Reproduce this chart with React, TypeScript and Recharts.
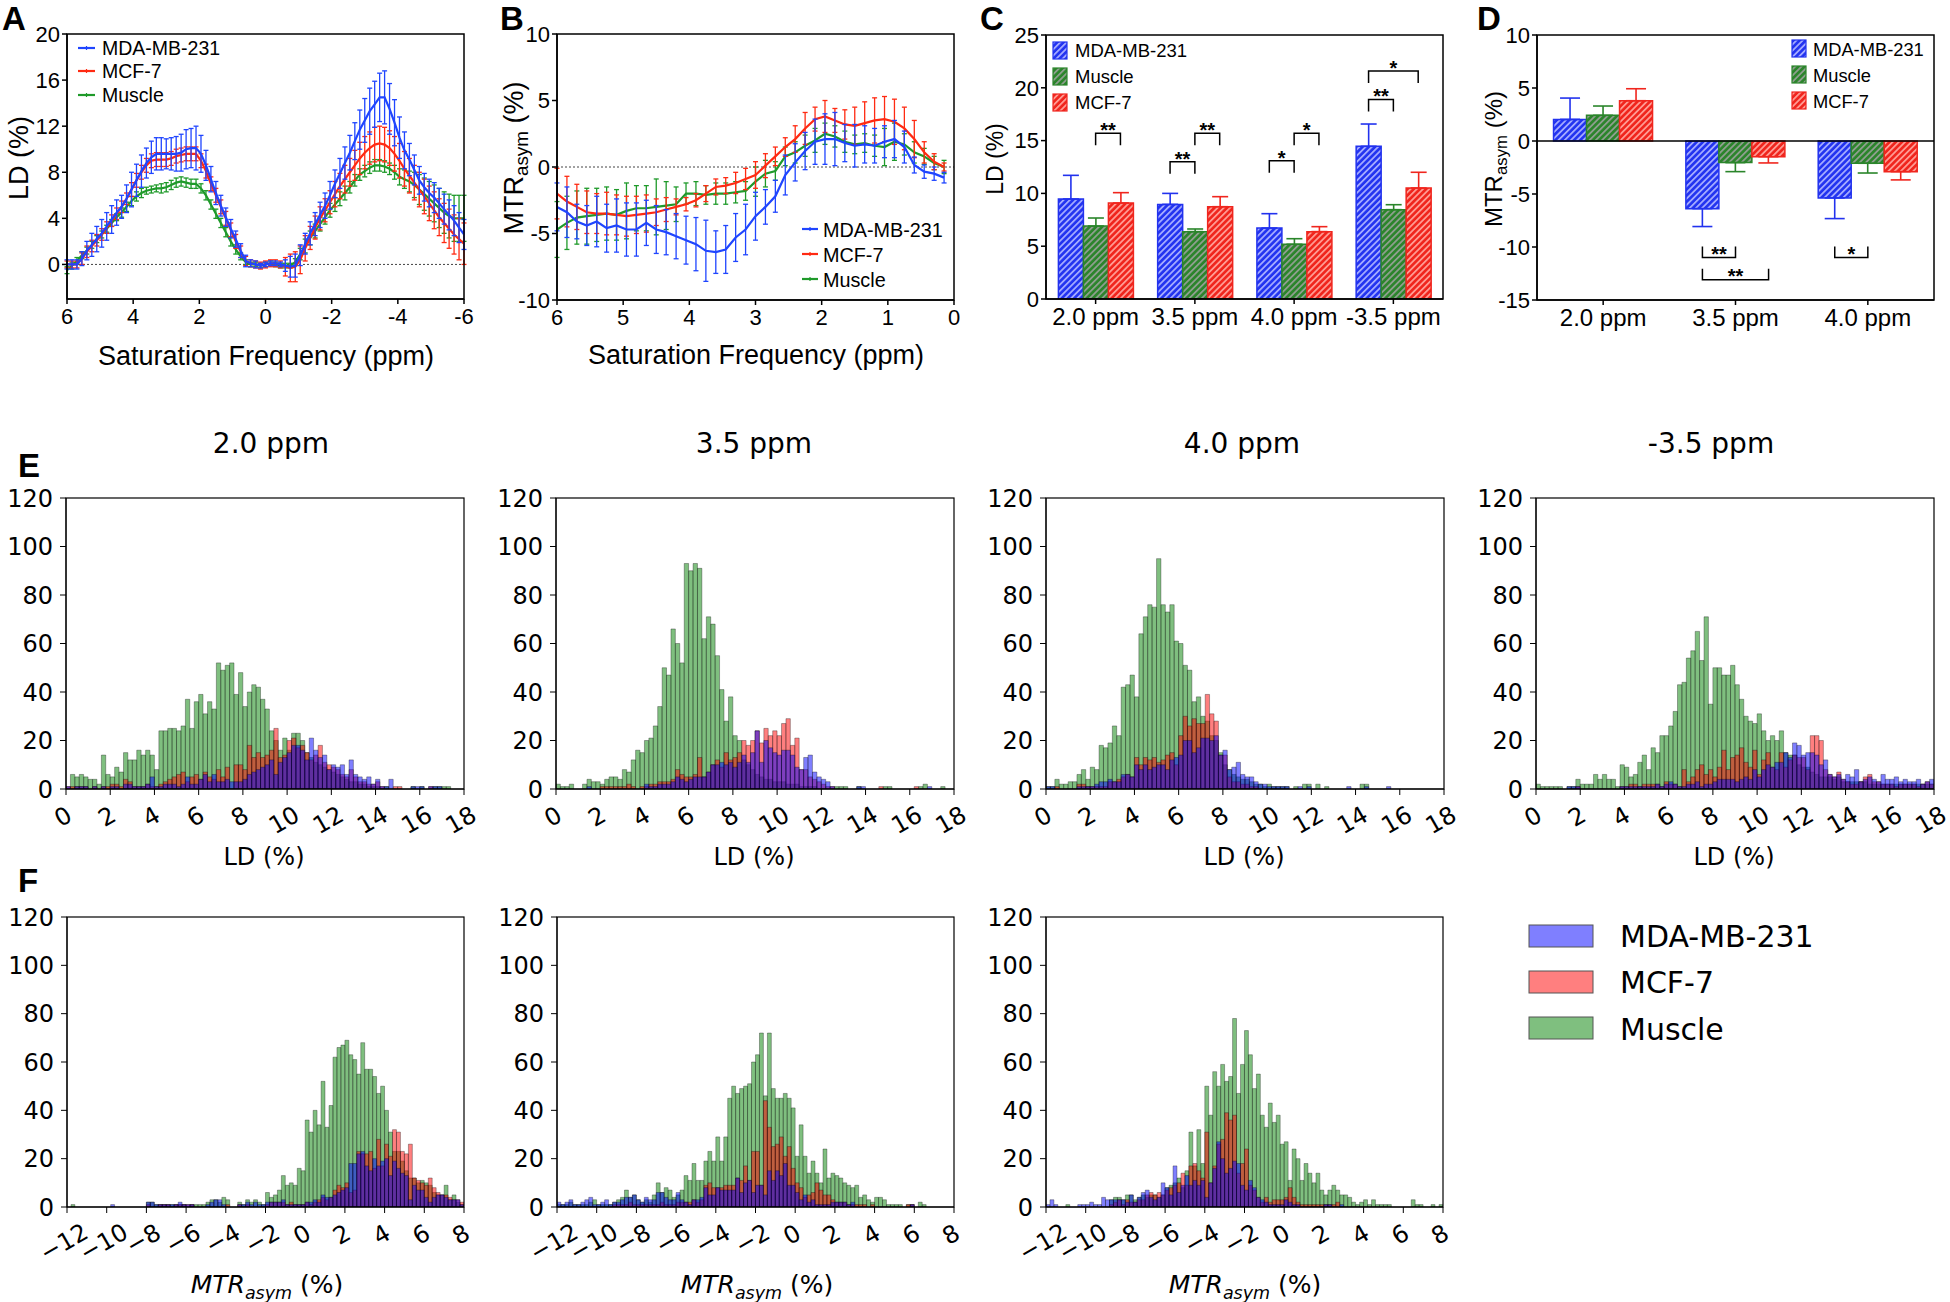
import React from 'react';
import { LineChart, Line, BarChart, Bar, XAxis, YAxis, ErrorBar, ReferenceLine } from 'recharts';

const ARIAL = '"Liberation Sans", Arial, Helvetica, sans-serif';
const DEJAVU = '"DejaVu Sans", sans-serif';
const BLUE = '#1f45ff';
const RED = '#ff2a12';
const GREEN = '#1f9a2a';
const HB = '#2232ee';
const HG = '#2a852a';
const HR = '#f0261e';

// ---------- A: LD spectra, 6 .. -6 ppm every 0.15 ppm
const freqA = Array.from({ length: 81 }, (_, i) => +(6 - 0.15 * i).toFixed(2));
const ldMDA = [0, 0, 0, 0.5, 1.2, 1.7, 2.2, 2.7, 3.3, 3.9,
  4.5, 5.0, 5.7, 6.5, 7.3, 8.1, 8.8, 9.3, 9.6, 9.6,
  9.6, 9.6, 9.6, 9.7, 10.0, 10.1, 10.1, 9.6, 8.6, 7.4,
  6.2, 5.1, 4.1, 3.1, 2.2, 1.2, 0.3, 0.1, 0, -0.1,
  0, 0.1, 0.1, 0, -0.1, -0.2, -0.1, 0.8, 1.8, 2.7,
  3.5, 4.3, 5.1, 6.0, 7.0, 7.9, 8.8, 9.7, 10.7, 11.7,
  12.5, 13.3, 13.9, 14.5, 14.5, 13.5, 12.3, 11.0, 9.9, 9.1,
  8.2, 7.3, 6.7, 6.2, 5.8, 5.3, 4.8, 4.3, 3.8, 3.2, 2.6];
const ldMDAerr = [0.4, 0.4, 0.4, 0.6, 0.8, 1.0, 1.1, 1.2, 1.2, 1.2,
  1.1, 1.0, 1.2, 1.5, 1.4, 1.4, 1.3, 1.4, 1.4, 1.4,
  1.3, 1.4, 1.5, 1.6, 1.7, 1.7, 1.9, 1.6, 1.3, 1.1,
  1.0, 0.9, 0.8, 0.8, 0.7, 0.6, 0.5, 0.3, 0.3, 0.2,
  0.2, 0.2, 0.2, 0.2, 0.5, 0.9, 1.0, 0.9, 0.9, 1.0,
  1.0, 1.1, 1.1, 1.2, 1.2, 1.3, 1.4, 1.5, 1.6, 1.7,
  1.9, 2.0, 2.0, 2.1, 2.3, 2.2, 2.0, 1.8, 1.6, 1.4,
  1.3, 1.2, 1.2, 1.2, 1.3, 1.3, 1.3, 1.3, 1.3, 1.3, 1.3];
const ldMCF = [0, 0, 0, 0.5, 1.1, 1.6, 2.1, 2.6, 3.2, 3.8,
  4.4, 5.0, 5.7, 6.5, 7.3, 8.0, 8.6, 9.0, 9.1, 9.1,
  9.1, 9.2, 9.4, 9.5, 9.6, 9.6, 9.6, 9.0, 8.1, 7.0,
  6.0, 5.0, 4.0, 3.0, 2.0, 1.1, 0.3, 0.1, 0, -0.1,
  0, 0.1, 0.1, 0, -0.2, -0.3, -0.2, 0.4, 1.4, 2.3,
  3.2, 4.0, 4.7, 5.4, 6.1, 6.8, 7.4, 8.0, 8.6, 9.2,
  9.7, 10.1, 10.4, 10.5, 10.4, 10.1, 9.6, 9.0, 8.3, 7.7,
  7.1, 6.5, 5.9, 5.3, 4.7, 4.1, 3.6, 3.1, 2.6, 2.2, 1.8];
const ldMCFerr = [0.3, 0.3, 0.3, 0.5, 0.5, 0.5, 0.5, 0.5, 0.5, 0.5,
  0.5, 0.5, 0.5, 0.6, 0.6, 0.6, 0.6, 0.6, 0.6, 0.6,
  0.6, 0.6, 0.6, 0.6, 0.6, 0.6, 0.6, 0.6, 0.6, 0.6,
  0.6, 0.6, 0.6, 0.6, 0.6, 0.5, 0.4, 0.3, 0.3, 0.3,
  0.3, 0.3, 0.3, 0.3, 0.8, 1.2, 1.3, 1.2, 1.1, 1.0,
  1.0, 1.0, 1.0, 1.0, 1.1, 1.1, 1.2, 1.2, 1.3, 1.4,
  1.4, 1.4, 1.5, 1.5, 1.5, 1.5, 1.5, 1.5, 1.5, 1.5,
  1.5, 1.5, 1.5, 1.5, 1.6, 1.6, 1.7, 1.7, 1.7, 1.8, 1.8];
const ldMUS = [-0.5, -0.1, 0.3, 0.8, 1.2, 1.7, 2.2, 2.6, 3.1, 3.6,
  4.1, 4.5, 5.0, 5.5, 5.9, 6.2, 6.4, 6.5, 6.6, 6.6,
  6.7, 6.9, 7.1, 7.2, 7.1, 7.0, 7.0, 6.6, 6.0, 5.2,
  4.4, 3.6, 2.8, 2.0, 1.3, 0.7, 0.2, 0, 0, -0.1,
  0, 0.1, 0, -0.1, -0.1, -0.1, 0.2, 0.9, 1.6, 2.3,
  2.9, 3.5, 4.1, 4.7, 5.2, 5.7, 6.2, 6.7, 7.3, 7.8,
  8.1, 8.4, 8.6, 8.6, 8.5, 8.3, 8.0, 7.6, 7.4, 7.2,
  6.9, 6.5, 6.1, 5.7, 5.3, 4.9, 4.5, 4.2, 4.0, 4.0, 4.0];
const ldMUSerr = [0.3, 0.3, 0.3, 0.3, 0.3, 0.3, 0.3, 0.3, 0.3, 0.3,
  0.3, 0.4, 0.4, 0.4, 0.4, 0.4, 0.3, 0.3, 0.3, 0.4,
  0.4, 0.4, 0.4, 0.4, 0.4, 0.4, 0.4, 0.4, 0.4, 0.4,
  0.4, 0.4, 0.4, 0.4, 0.4, 0.3, 0.2, 0.2, 0.2, 0.2,
  0.2, 0.2, 0.2, 0.2, 0.2, 0.2, 0.3, 0.5, 0.6, 0.6,
  0.6, 0.6, 0.6, 0.6, 0.6, 0.6, 0.6, 0.5, 0.5, 0.5,
  0.5, 0.5, 0.5, 0.5, 0.5, 0.5, 0.6, 0.7, 0.8, 0.9,
  1.1, 1.3, 1.4, 1.5, 1.6, 1.7, 1.8, 1.9, 2.0, 2.0, 2.0];

// ---------- B: MTRasym, 6 .. 0.15 ppm every 0.15 ppm
const freqB = Array.from({ length: 40 }, (_, i) => +(6 - 0.15 * i).toFixed(2));
const mtrMDA = [-3.0, -3.4, -4.1, -4.4, -4.1, -4.6, -4.4, -4.7, -4.7, -4.2,
  -4.7, -4.9, -5.2, -5.5, -5.8, -6.3, -6.4, -6.2, -5.3, -4.7,
  -3.7, -3.0, -2.2, -0.6, 0.35, 1.2, 1.9, 2.1, 2.1, 1.8,
  1.6, 1.7, 1.6, 1.9, 2.1, 1.5, 0.15, -0.35, -0.5, -0.8];
const mtrMDAerr = [1.8, 1.9, 1.3, 1.5, 1.9, 1.8, 2.0, 2.0, 2.0, 1.7,
  1.8, 1.7, 1.7, 1.8, 2.0, 2.3, 1.6, 1.8, 1.8, 1.9,
  1.8, 1.3, 1.2, 1.5, 1.4, 1.4, 1.7, 1.9, 2.0, 1.4,
  1.6, 1.4, 1.3, 1.2, 1.4, 1.2, 0.6, 0.5, 0.5, 0.4];
const mtrMCF = [-2.0, -2.6, -3.0, -3.4, -3.5, -3.5, -3.6, -3.7, -3.6, -3.5,
  -3.4, -3.2, -3.0, -2.8, -2.5, -2.0, -1.5, -1.4, -1.2, -0.9,
  -0.6, 0.1, 0.8, 1.5, 2.1, 2.9, 3.6, 3.8, 3.5, 3.2,
  3.1, 3.3, 3.5, 3.6, 3.4, 2.9, 2.1, 1.1, 0.4, 0.0];
const mtrMCFerr = [1.9, 1.9, 1.7, 1.6, 1.5, 1.6, 1.5, 1.5, 1.4, 1.4,
  1.0, 0.9, 0.6, 0.5, 0.5, 0.6, 0.6, 0.6, 0.8, 0.8,
  1.0, 0.9, 0.7, 0.7, 1.0, 1.2, 0.9, 1.2, 0.9, 1.1,
  1.4, 1.6, 1.7, 1.7, 1.7, 1.6, 1.4, 0.8, 0.6, 0.3];
const mtrMUS = [-4.7, -4.2, -3.8, -3.7, -3.6, -3.5, -3.6, -3.3, -3.1, -3.1,
  -3.0, -2.9, -2.8, -2.0, -2.0, -2.1, -2.0, -2.0, -1.9, -1.8,
  -1.1, -0.5, -0.3, 0.8, 1.1, 1.6, 2.0, 2.5, 2.3, 1.9,
  1.7, 1.8, 1.6, 1.5, 1.9, 1.7, 1.1, 0.8, 0.3, 0.0];
const mtrMUSerr = [2.1, 2.0, 2.0, 2.1, 2.0, 2.0, 1.9, 2.1, 1.7, 1.7,
  2.1, 1.8, 1.3, 0.8, 0.9, 0.7, 0.8, 0.8, 0.8, 0.7,
  1.1, 1.0, 0.7, 0.7, 0.8, 0.8, 0.9, 0.8, 0.8, 0.8,
  0.7, 0.7, 0.8, 1.4, 1.4, 0.8, 0.8, 0.6, 0.5, 0.5];

// ---------- C / D: bar summaries (mean, SEM)
const ldCats = ['2.0 ppm', '3.5 ppm', '4.0 ppm', '-3.5 ppm'];
const ldBarMDA = [9.47, 8.96, 6.72, 14.46];
const ldBarMDAsem = [2.24, 1.04, 1.36, 2.11];
const ldBarMUS = [6.91, 6.38, 5.18, 8.46];
const ldBarMUSsem = [0.76, 0.25, 0.53, 0.47];
const ldBarMCF = [9.09, 8.74, 6.38, 10.51];
const ldBarMCFsem = [0.98, 0.95, 0.47, 1.49];

const mtrCats = ['2.0 ppm', '3.5 ppm', '4.0 ppm'];
const mtrBarMDA = [2.04, -6.38, -5.37];
const mtrBarMDAsem = [2.01, 1.69, 1.95];
const mtrBarMUS = [2.42, -2.04, -2.10];
const mtrBarMUSsem = [0.88, 0.85, 0.92];
const mtrBarMCF = [3.80, -1.48, -2.89];
const mtrBarMCFsem = [1.13, 0.59, 0.78];

// significance brackets: category, bar a, bar b, level, label
const sigC = [
  { cat: 0, a: 1, b: 2, y: 15.7, s: '**' },
  { cat: 1, a: 0, b: 1, y: 13.0, s: '**' },
  { cat: 1, a: 1, b: 2, y: 15.7, s: '**' },
  { cat: 2, a: 0, b: 1, y: 13.1, s: '*' },
  { cat: 2, a: 1, b: 2, y: 15.7, s: '*' },
  { cat: 3, a: 0, b: 1, y: 18.9, s: '**' },
  { cat: 3, a: 0, b: 2, y: 21.6, s: '*' },
];
const sigD = [
  { cat: 1, a: 0, b: 1, y: -11.0, s: '**' },
  { cat: 1, a: 0, b: 2, y: -13.1, s: '**' },
  { cat: 2, a: 0, b: 1, y: -11.0, s: '*' },
];

// ---------- E: LD histograms, bins of 0.2 from 0
const h20Mus = [0, 6, 5, 6, 5, 4, 4, 2, 14, 6, 5, 9, 7, 15, 12, 12, 16, 14, 16, 14, 8, 24, 24, 25, 25, 24, 26, 37, 25, 36, 39, 31, 36, 33, 52, 49, 51, 52, 39, 48, 34, 40, 43, 42, 37, 33, 24, 20, 16, 21, 16, 23, 23, 20, 15, 13, 11, 10, 9, 8, 7, 6, 5, 4, 3, 3, 2, 2, 1, 1, 1, 0, 1, 0, 0, 0, 0, 0, 1, 0, 1, 0, 0, 1, 1, 1, 1];
const h20Mcf = [1, 1, 1, 1, 1, 0, 1, 0, 1, 1, 2, 2, 1, 4, 3, 1, 1, 1, 2, 1, 1, 2, 3, 4, 5, 6, 7, 3, 5, 6, 4, 7, 5, 4, 8, 5, 9, 0, 10, 10, 8, 18, 13, 15, 13, 14, 16, 25, 13, 14, 20, 21, 17, 18, 15, 12, 14, 18, 11, 10, 9, 8, 6, 5, 8, 5, 3, 3, 2, 2, 3, 1, 0, 0, 1, 1, 0, 0, 0, 0, 0, 0, 1];
const h20Mda = [1, 0, 1, 1, 1, 0, 1, 0, 1, 0, 1, 1, 0, 2, 2, 1, 1, 1, 2, 5, 1, 1, 2, 2, 2, 1, 2, 5, 2, 2, 4, 6, 3, 6, 3, 3, 4, 3, 3, 3, 4, 6, 7, 8, 9, 10, 12, 6, 11, 13, 15, 18, 18, 16, 12, 21, 16, 13, 14, 8, 10, 9, 10, 6, 12, 6, 5, 4, 5, 2, 4, 1, 1, 4, 0, 0, 0, 0, 1, 1, 1, 0, 1, 1, 1];

const h35Mus = [2, 1, 1, 2, 0, 0, 2, 4, 3, 3, 2, 4, 5, 5, 4, 8, 7, 12, 16, 15, 20, 21, 26, 34, 50, 47, 66, 60, 52, 93, 90, 93, 91, 62, 71, 68, 55, 41, 28, 38, 22, 20, 12, 10, 8, 6, 5, 4, 4, 3, 3, 3, 2, 2, 2, 1, 1, 1, 1, 0, 0, 0, 0, 1, 1, 1, 0, 0, 1, 0, 0, 0, 0, 0, 1, 1, 0, 0, 0, 0, 0, 0, 1, 2, 0, 0, 0, 1];
const h35Mcf = [0, 0, 0, 0, 0, 0, 0, 0, 0, 0, 1, 1, 1, 1, 1, 1, 2, 1, 0, 1, 1, 2, 2, 3, 3, 3, 4, 8, 6, 5, 5, 6, 13, 5, 7, 10, 12, 9, 15, 12, 13, 15, 20, 18, 20, 24, 19, 25, 22, 24, 22, 27, 29, 18, 21, 8, 8, 5, 4, 3, 2, 1, 1, 0, 0, 0, 0, 0, 0, 0, 0, 0, 0, 1, 0, 0, 0, 0, 0, 0, 0, 1];
const h35Mda = [0, 0, 0, 0, 0, 0, 0, 1, 0, 0, 0, 0, 0, 0, 0, 0, 0, 0, 0, 0, 2, 1, 1, 2, 2, 2, 3, 5, 4, 3, 4, 5, 5, 5, 7, 10, 10, 11, 10, 11, 9, 11, 14, 11, 15, 24, 11, 20, 17, 15, 14, 16, 16, 14, 9, 8, 13, 14, 7, 5, 4, 3, 1, 0, 0, 0, 0, 0, 1, 1, 0, 0, 0, 0, 0, 0, 0, 0, 0, 0, 0, 0, 0, 0, 1];

const h40Mus = [1, 1, 4, 2, 2, 3, 3, 6, 8, 4, 9, 8, 18, 17, 19, 26, 22, 42, 43, 47, 38, 64, 71, 76, 75, 95, 76, 73, 76, 61, 60, 51, 49, 36, 38, 30, 28, 22, 20, 15, 10, 8, 6, 5, 4, 4, 3, 2, 2, 1, 2, 1, 1, 1, 1, 0, 1, 0, 2, 2, 0, 2, 0, 1, 0, 0, 0, 0, 0, 0, 0, 2, 2];
const h40Mcf = [0, 0, 1, 0, 0, 0, 0, 2, 2, 1, 1, 1, 1, 1, 3, 3, 4, 5, 6, 5, 13, 10, 13, 12, 13, 11, 12, 14, 15, 10, 22, 30, 26, 29, 27, 27, 39, 31, 28, 14, 14, 5, 3, 3, 2, 2, 1, 1];
const h40Mda = [1, 1, 0, 0, 0, 0, 0, 1, 1, 1, 1, 2, 3, 3, 4, 3, 3, 6, 6, 5, 10, 8, 10, 8, 9, 10, 10, 8, 12, 13, 14, 20, 20, 15, 17, 21, 21, 20, 22, 14, 16, 8, 9, 11, 6, 5, 5, 3, 2, 2, 1, 1, 1, 1, 1, 0, 0, 1, 0, 1, 0, 0, 0, 0, 0, 0, 0, 0, 1, 0, 0, 0, 1, 0, 0, 0, 0, 1];

const hm35Mus = [2, 1, 1, 1, 1, 1, 0, 1, 1, 4, 2, 2, 2, 6, 4, 6, 4, 4, 1, 10, 9, 5, 6, 11, 14, 8, 17, 15, 22, 22, 26, 32, 43, 44, 54, 57, 65, 53, 71, 35, 50, 50, 47, 47, 51, 43, 37, 30, 28, 27, 31, 24, 20, 22, 20, 24, 15, 14, 14, 10, 9, 9, 7, 6, 5, 5, 5, 4, 5, 3, 3, 3, 3, 3, 3, 2, 2, 2, 2, 2, 2, 2, 2, 2, 2, 2, 2, 2, 2, 2];
const hm35Mcf = [0, 0, 0, 0, 0, 0, 0, 0, 0, 1, 0, 0, 0, 0, 0, 0, 0, 0, 0, 1, 1, 2, 2, 1, 2, 2, 2, 2, 1, 3, 2, 2, 1, 8, 3, 5, 8, 10, 6, 8, 5, 9, 16, 8, 13, 14, 17, 11, 9, 16, 6, 12, 15, 9, 8, 15, 9, 12, 14, 13, 13, 8, 22, 22, 20, 8, 6, 5, 7, 4, 3, 2, 2, 3, 5, 6, 3, 3, 2, 2, 2, 1, 2, 2, 2, 2, 1, 2, 3, 2];
const hm35Mda = [0, 0, 0, 0, 0, 0, 0, 1, 1, 1, 0, 0, 0, 0, 0, 0, 0, 0, 0, 1, 1, 1, 1, 1, 1, 1, 1, 2, 1, 2, 3, 2, 1, 1, 2, 2, 3, 1, 2, 2, 3, 4, 4, 4, 4, 3, 4, 5, 4, 8, 5, 8, 10, 9, 11, 11, 15, 13, 19, 18, 14, 15, 15, 14, 10, 12, 6, 5, 6, 4, 6, 5, 8, 3, 4, 5, 4, 3, 6, 4, 4, 5, 3, 4, 3, 3, 4, 2, 3, 4];

// ---------- F: MTRasym histograms, bins of 0.2 from -12
const m20Mus = [0, 1, 0, 0, 0, 0, 0, 0, 0, 0, 0, 0, 0, 0, 0, 0, 0, 0, 0, 0,
  2, 2, 1, 1, 1, 1, 1, 1, 1, 1, 0, 1, 1, 1, 1, 2, 3, 3, 2, 4,
  3, 0, 0, 2, 1, 3, 2, 3, 2, 1, 6, 4, 5, 7, 13, 9, 10, 9, 16, 15,
  36, 31, 40, 34, 52, 33, 42, 62, 66, 67, 69, 63, 61, 55, 68, 57, 57, 54, 47, 50,
  40, 31, 23, 23, 19, 15, 12, 12, 10, 11, 10, 9, 6, 5, 5, 9, 3, 5, 2, 1];
const m20Mcf = [0, 0, 0, 0, 0, 0, 0, 0, 0, 0, 0, 0, 0, 0, 0, 0, 0, 0, 0, 0,
  1, 0, 0, 1, 1, 1, 0, 1, 1, 1, 1, 1, 0, 0, 0, 0, 0, 0, 0, 0,
  1, 0, 0, 1, 0, 1, 0, 0, 0, 0, 1, 2, 2, 2, 2, 1, 2, 1, 1, 1,
  2, 1, 2, 3, 4, 3, 4, 7, 9, 8, 10, 6, 7, 23, 22, 22, 23, 16, 28, 17,
  26, 21, 32, 31, 23, 22, 26, 12, 11, 10, 9, 12, 8, 6, 5, 5, 4, 3, 3, 2];
const m20Mda = [0, 0, 0, 0, 0, 0, 0, 0, 0, 0, 0, 1, 0, 0, 0, 0, 0, 0, 0, 0,
  2, 2, 1, 1, 1, 1, 1, 1, 2, 1, 1, 1, 0, 0, 0, 1, 2, 3, 3, 1,
  0, 0, 0, 1, 1, 2, 1, 2, 1, 1, 2, 2, 2, 2, 3, 1, 1, 1, 1, 1,
  2, 2, 3, 2, 5, 4, 4, 5, 6, 7, 8, 18, 18, 22, 23, 17, 15, 20, 17, 19,
  20, 13, 19, 16, 14, 13, 3, 9, 7, 7, 4, 2, 4, 5, 5, 4, 3, 3, 3, 1];

const m35Mus = [1, 1, 1, 2, 1, 1, 1, 1, 2, 3, 1, 1, 1, 1, 2, 3, 4, 7, 4, 5,
  3, 2, 3, 2, 5, 10, 6, 8, 7, 4, 5, 7, 13, 11, 18, 11, 11, 19, 23, 19,
  29, 19, 29, 45, 50, 47, 49, 50, 51, 60, 63, 72, 46, 72, 49, 45, 45, 47, 45, 41,
  21, 34, 21, 14, 19, 14, 10, 24, 12, 14, 13, 12, 10, 9, 8, 9, 4, 5, 3, 2,
  4, 4, 3, 1, 1, 1, 1, 0, 1, 1, 0, 2, 1];
const m35Mcf = [0, 0, 0, 0, 0, 0, 0, 0, 0, 0, 0, 0, 0, 0, 1, 1, 1, 1, 2, 1,
  1, 1, 1, 1, 1, 1, 2, 1, 1, 1, 2, 2, 2, 2, 3, 2, 3, 9, 10, 8,
  8, 8, 9, 9, 9, 12, 11, 17, 11, 23, 23, 9, 44, 33, 25, 26, 29, 21, 25, 16,
  10, 8, 4, 5, 6, 10, 7, 5, 5, 3, 2, 2, 2, 1, 1, 1, 1, 1, 0, 1,
  0, 0, 0, 0, 0, 0, 0, 0, 1, 1];
const m35Mda = [2, 1, 2, 3, 1, 1, 2, 3, 4, 1, 1, 2, 3, 1, 2, 2, 3, 4, 4, 5,
  3, 2, 4, 3, 3, 6, 6, 4, 3, 3, 6, 3, 2, 1, 3, 3, 4, 8, 5, 5,
  8, 7, 7, 7, 7, 12, 6, 10, 11, 6, 9, 9, 5, 15, 11, 15, 13, 18, 9, 9,
  6, 3, 5, 2, 3, 1, 1, 1, 1, 2, 2, 2, 2, 1, 2, 0, 0, 0, 0, 0,
  0, 0, 0, 0, 0, 0, 0, 0, 0, 1];

const m40Mus = [0, 0, 0, 0, 0, 1, 0, 0, 0, 0, 0, 0, 0, 0, 0, 0, 3, 4, 4, 3,
  5, 5, 3, 4, 5, 4, 5, 5, 4, 5, 8, 9, 10, 12, 8, 15, 31, 17, 32, 18,
  50, 38, 56, 50, 59, 52, 54, 78, 47, 59, 73, 63, 49, 55, 38, 33, 43, 35, 38, 26,
  27, 11, 24, 20, 11, 18, 14, 10, 14, 7, 5, 7, 9, 7, 5, 5, 4, 2, 1, 2,
  3, 1, 3, 1, 1, 1, 1, 0, 0, 0, 0, 0, 3, 1, 1, 0, 0, 1, 0, 1];
const m40Mcf = [0, 0, 0, 0, 0, 0, 0, 0, 0, 0, 0, 0, 0, 0, 0, 0, 1, 2, 3, 1,
  3, 2, 2, 3, 3, 5, 6, 5, 6, 5, 7, 8, 9, 10, 14, 9, 17, 18, 15, 12,
  31, 10, 17, 26, 28, 39, 36, 38, 14, 18, 24, 9, 7, 4, 2, 4, 2, 3, 3, 3,
  4, 8, 4, 2, 1, 1, 1, 1, 1, 1, 1, 1, 1, 2];
const m40Mda = [1, 3, 1, 0, 0, 0, 0, 0, 1, 1, 1, 2, 1, 1, 4, 3, 3, 3, 3, 3,
  2, 5, 2, 4, 6, 7, 4, 3, 4, 10, 8, 5, 17, 6, 9, 13, 9, 11, 9, 11,
  4, 10, 16, 27, 20, 14, 16, 19, 18, 9, 7, 11, 8, 4, 3, 2, 1, 1, 1, 1,
  3, 2, 1, 1, 0, 0, 0, 0, 0, 0, 1, 1, 0, 0, 1];

const lineNames = ['MDA-MB-231', 'MCF-7', 'Muscle'];
const barNames = ['MDA-MB-231', 'Muscle', 'MCF-7'];
const eTitles = ['2.0 ppm', '3.5 ppm', '4.0 ppm', '-3.5 ppm'];

// ---------- layout (plot frames in page pixels)
const FA = { l: 67, t: 34, w: 397, h: 265 };
const FB = { l: 557, t: 34, w: 397, h: 266 };
const FC = { l: 1046, t: 35, w: 397, h: 264 };
const FD = { l: 1537, t: 35, w: 397, h: 265 };
const FE = [66, 556, 1046, 1536].map((l) => ({ l, t: 498, w: 398, h: 291 }));
const FF = [67, 557, 1046].map((l) => ({ l, t: 917, w: 397, h: 290 }));

const AX = { stroke: '#000', strokeWidth: 1.5 };
const TK22 = { fill: '#000', fontSize: 22, fontFamily: ARIAL };
const TK24 = { fill: '#000', fontSize: 24, fontFamily: ARIAL };

const rowsA = freqA.map((f, i) => ({
  f, mda: ldMDA[i], mdaE: ldMDAerr[i], mcf: ldMCF[i], mcfE: ldMCFerr[i], mus: ldMUS[i], musE: ldMUSerr[i],
}));
const rowsB = freqB.map((f, i) => ({
  f, mda: mtrMDA[i], mdaE: mtrMDAerr[i], mcf: mtrMCF[i], mcfE: mtrMCFerr[i], mus: mtrMUS[i], musE: mtrMUSerr[i],
}));
const oneSided = (v: number, e: number) => (v >= 0 ? [0, e] : [e, 0]);
const rowsC = ldCats.map((c, i) => ({
  cat: c,
  mda: ldBarMDA[i], mdaE: oneSided(ldBarMDA[i], ldBarMDAsem[i]),
  mus: ldBarMUS[i], musE: oneSided(ldBarMUS[i], ldBarMUSsem[i]),
  mcf: ldBarMCF[i], mcfE: oneSided(ldBarMCF[i], ldBarMCFsem[i]),
}));
const rowsD = mtrCats.map((c, i) => ({
  cat: c,
  mda: mtrBarMDA[i], mdaE: oneSided(mtrBarMDA[i], mtrBarMDAsem[i]),
  mus: mtrBarMUS[i], musE: oneSided(mtrBarMUS[i], mtrBarMUSsem[i]),
  mcf: mtrBarMCF[i], mcfE: oneSided(mtrBarMCF[i], mtrBarMCFsem[i]),
}));

function binRows(start: number, n: number, mus: number[], mcf: number[], mda: number[]) {
  return Array.from({ length: n }, (_, i) => ({
    x: +(start + 0.2 * (i + 0.5)).toFixed(2),
    mus: mus[i] ?? 0,
    mcf: mcf[i] ?? 0,
    mda: mda[i] ?? 0,
  }));
}
const histE = [
  binRows(0, 90, h20Mus, h20Mcf, h20Mda),
  binRows(0, 90, h35Mus, h35Mcf, h35Mda),
  binRows(0, 90, h40Mus, h40Mcf, h40Mda),
  binRows(0, 90, hm35Mus, hm35Mcf, hm35Mda),
];
const histF = [
  binRows(-12, 100, m20Mus, m20Mcf, m20Mda),
  binRows(-12, 100, m35Mus, m35Mcf, m35Mda),
  binRows(-12, 100, m40Mus, m40Mcf, m40Mda),
];

const fmtMinus = (v: number) => (v < 0 ? '\u2212' + Math.abs(v) : String(v));

function RotTick(props: any) {
  const { x, y, payload } = props;
  const label = fmtMinus(payload.value);
  const w = label.length * 0.636 * 24 + (label.startsWith('\u2212') ? 5 : 0);
  return (
    <text
      transform={`translate(${x - 3},${y + 18.5 + w * 0.22}) rotate(-30)`}
      textAnchor="middle"
      dominantBaseline="central"
      fontSize={24}
      fontFamily={DEJAVU}
      fill="#000"
    >
      {label}
    </text>
  );
}

function Hist({ fr, rows, domain, ticks }: any) {
  const YW = 60, XH = 70, MT = 20, MR = 40;
  const binPx = (fr.w * 0.2) / (domain[1] - domain[0]);
  // a hair under the bin width so the three overlapping series share one slot
  const barPx = binPx - 0.06;
  const common = {
    stroke: '#000', strokeOpacity: 0.45, strokeWidth: 0.7, fillOpacity: 0.5, barSize: barPx, isAnimationActive: false,
  };
  return (
    <div style={{ position: 'absolute', left: fr.l - YW, top: fr.t - MT }}>
      <BarChart
        width={YW + fr.w + MR}
        height={MT + fr.h + XH}
        data={rows}
        margin={{ top: MT, right: MR, left: 0, bottom: 0 }}
        barGap={-barPx}
        barCategoryGap={0}
      >
        <XAxis
          type="number" dataKey="x" domain={domain} ticks={ticks} interval={0} allowDataOverflow
          height={XH} tickSize={6} tickMargin={0} stroke="#000"
          tick={(p: any) => <RotTick {...p} />}
        />
        <YAxis
          type="number" domain={[0, 120]} ticks={[0, 20, 40, 60, 80, 100, 120]} interval={0} allowDataOverflow
          width={YW} tickSize={6} tickMargin={7} stroke="#000"
          tick={{ fill: '#000', fontSize: 24, fontFamily: DEJAVU }}
        />
        <Bar dataKey="mus" fill="#008000" {...common} />
        <Bar dataKey="mcf" fill="#ff0000" {...common} />
        <Bar dataKey="mda" fill="#0000ff" {...common} />
      </BarChart>
    </div>
  );
}

function SpectrumChart({ fr, rows, xDomain, xTicks, yDomain, yTicks }: any) {
  const YW = 60, XH = 40, MT = 20, MR = 20;
  const series = [
    { k: 'mus', c: GREEN },
    { k: 'mcf', c: RED },
    { k: 'mda', c: BLUE },
  ];
  return (
    <div style={{ position: 'absolute', left: fr.l - YW, top: fr.t - MT }}>
      <LineChart width={YW + fr.w + MR} height={MT + fr.h + XH} data={rows} margin={{ top: MT, right: MR, left: 0, bottom: 0 }}>
        <XAxis
          type="number" dataKey="f" domain={xDomain} reversed ticks={xTicks} interval={0} allowDataOverflow
          height={XH} tickSize={5} tickMargin={4} axisLine={AX} tickLine={AX} tick={TK22}
        />
        <YAxis
          type="number" domain={yDomain} ticks={yTicks} interval={0} allowDataOverflow
          width={YW} tickSize={5} tickMargin={2} axisLine={AX} tickLine={AX} tick={TK22}
        />
        <ReferenceLine y={0} stroke="#444" strokeDasharray="2 2" strokeWidth={1} />
        {series.map((s) => (
          <Line key={s.k} type="linear" dataKey={s.k} stroke={s.c} strokeWidth={2.2} dot={false} isAnimationActive={false}>
            <ErrorBar dataKey={s.k + 'E'} width={2.5} stroke={s.c} strokeWidth={1.3} direction="y" />
          </Line>
        ))}
      </LineChart>
    </div>
  );
}

function SummaryChart({ fr, rows, yDomain, yTicks, zeroLine, capW }: any) {
  const YW = 60, XH = 40, MT = 20, MR = 10;
  const series = [
    { k: 'mda', f: 'url(#hatchBlue)', c: HB },
    { k: 'mus', f: 'url(#hatchGreen)', c: HG },
    { k: 'mcf', f: 'url(#hatchRed)', c: HR },
  ];
  return (
    <div style={{ position: 'absolute', left: fr.l - YW, top: fr.t - MT }}>
      <BarChart
        width={YW + fr.w + MR}
        height={MT + fr.h + XH}
        data={rows}
        margin={{ top: MT, right: MR, left: 0, bottom: 0 }}
        barCategoryGap="12.5%"
        barGap={0}
      >
        <XAxis dataKey="cat" interval={0} height={XH} tickSize={5} tickMargin={4} axisLine={AX} tickLine={AX} tick={TK24} />
        <YAxis
          type="number" domain={yDomain} ticks={yTicks} interval={0} allowDataOverflow
          width={YW} tickSize={5} tickMargin={2} axisLine={AX} tickLine={AX} tick={TK22}
        />
        {series.map((s) => (
          <Bar key={s.k} dataKey={s.k} fill={s.f} stroke={s.c} strokeWidth={1.5} isAnimationActive={false}>
            <ErrorBar dataKey={s.k + 'E'} width={capW} stroke={s.c} strokeWidth={1.6} direction="y" />
          </Bar>
        ))}
        {zeroLine && <ReferenceLine y={0} stroke="#000" strokeWidth={1.5} />}
      </BarChart>
    </div>
  );
}

function Hatch({ id, base, stripe }: any) {
  return (
    <pattern id={id} width={4.4} height={4.4} patternUnits="userSpaceOnUse" patternTransform="rotate(45)">
      <rect width={4.4} height={4.4} fill={base} />
      <rect width={1.8} height={4.4} fill={stripe} />
    </pattern>
  );
}

function barCenter(fr: any, nCat: number, cat: number, k: number) {
  const band = fr.w / nCat;
  const gap = band * 0.125;
  const bw = (band - 2 * gap) / 3;
  return fr.l + band * cat + gap + bw * (k + 0.5);
}
function yPx(fr: any, lo: number, hi: number, v: number) {
  return fr.t + ((hi - v) / (hi - lo)) * fr.h;
}

function MtrLabel({ size }: any) {
  return (
    <>
      <tspan>MTR</tspan>
      <tspan fontSize={size * 0.7} dy={size * 0.2}>asym</tspan>
      <tspan dy={-size * 0.2}> (%)</tspan>
    </>
  );
}

function Overlay() {
  const lineColors = [BLUE, RED, GREEN];
  const patFills = ['url(#hatchBlue)', 'url(#hatchGreen)', 'url(#hatchRed)'];
  const patStrokes = [HB, HG, HR];
  const histFills = ['#0000ff', '#ff0000', '#008000'];
  const letter = { fontFamily: ARIAL, fontWeight: 700, fontSize: 33 };
  return (
    <svg width={1950} height={1302} style={{ position: 'absolute', left: 0, top: 0, pointerEvents: 'none' }}>
      {/* frames */}
      {[FA, FB, FC, FD].map((f, i) => (
        <rect key={'fr' + i} x={f.l} y={f.t} width={f.w} height={f.h} fill="none" stroke="#000" strokeWidth={1.5} />
      ))}
      {[...FE, ...FF].map((f, i) => (
        <rect key={'fh' + i} x={f.l} y={f.t} width={f.w} height={f.h} fill="none" stroke="#000" strokeWidth={1.2} />
      ))}

      {/* panel letters */}
      <text x={2} y={30} {...letter}>A</text>
      <text x={500} y={30} {...letter}>B</text>
      <text x={980} y={30} {...letter}>C</text>
      <text x={1477} y={30} {...letter}>D</text>
      <text x={18} y={477} {...letter}>E</text>
      <text x={18} y={892} {...letter}>F</text>

      {/* A / B titles */}
      <g fontFamily={ARIAL} fontSize={27} fill="#000" textAnchor="middle">
        <text x={266} y={365}>Saturation Frequency (ppm)</text>
        <text x={756} y={364}>Saturation Frequency (ppm)</text>
        <text transform="translate(28,158) rotate(-90)">LD (%)</text>
        <text transform="translate(523,158) rotate(-90)"><MtrLabel size={27} /></text>
      </g>
      <g fontFamily={ARIAL} fontSize={24} fill="#000" textAnchor="middle">
        <text transform="translate(1003,159) rotate(-90)" fontSize={23}>LD (%)</text>
        <text transform="translate(1502,159) rotate(-90)"><MtrLabel size={24} /></text>
      </g>

      {/* A legend */}
      {lineNames.map((n, i) => {
        const y = [48, 71, 95][i];
        return (
          <g key={'la' + n}>
            <line x1={78} x2={95} y1={y} y2={y} stroke={lineColors[i]} strokeWidth={2.2} />
            <line x1={86.5} x2={86.5} y1={y - 2} y2={y + 2} stroke={lineColors[i]} strokeWidth={1.2} />
            <text x={102} y={y + 7} fontFamily={ARIAL} fontSize={19.5}>{n}</text>
          </g>
        );
      })}
      {/* B legend */}
      {lineNames.map((n, i) => {
        const y = [229, 254, 279][i];
        return (
          <g key={'lb' + n}>
            <line x1={802} x2={818} y1={y} y2={y} stroke={lineColors[i]} strokeWidth={2.2} />
            <line x1={810} x2={810} y1={y - 2} y2={y + 2} stroke={lineColors[i]} strokeWidth={1.2} />
            <text x={823} y={y + 7.5} fontFamily={ARIAL} fontSize={19.8}>{n}</text>
          </g>
        );
      })}
      {/* C / D legends */}
      {barNames.map((n, i) => (
        <g key={'lc' + n}>
          <rect x={1053} y={[42, 68, 94][i]} width={14} height={17} fill={patFills[i]} stroke={patStrokes[i]} strokeWidth={1.2} />
          <text x={1075} y={[57, 83, 109][i]} fontFamily={ARIAL} fontSize={18.5}>{n}</text>
          <rect x={1792} y={[40, 66, 92][i]} width={14} height={17} fill={patFills[i]} stroke={patStrokes[i]} strokeWidth={1.2} />
          <text x={1813} y={[56, 82, 108][i]} fontFamily={ARIAL} fontSize={18.3}>{n}</text>
        </g>
      ))}

      {/* significance brackets */}
      {sigC.map((s, i) => {
        const x1 = barCenter(FC, 4, s.cat, s.a);
        const x2 = barCenter(FC, 4, s.cat, s.b);
        const y = yPx(FC, 0, 25, s.y);
        return (
          <g key={'sc' + i}>
            <path d={`M${x1},${y + 12} V${y} H${x2} V${y + 12}`} fill="none" stroke="#000" strokeWidth={1.5} />
            <text x={(x1 + x2) / 2} y={y + 4} textAnchor="middle" fontFamily={ARIAL} fontWeight={700} fontSize={20}>{s.s}</text>
          </g>
        );
      })}
      {sigD.map((s, i) => {
        const x1 = barCenter(FD, 3, s.cat, s.a);
        const x2 = barCenter(FD, 3, s.cat, s.b);
        const y = yPx(FD, -15, 10, s.y);
        return (
          <g key={'sd' + i}>
            <path d={`M${x1},${y - 11} V${y} H${x2} V${y - 11}`} fill="none" stroke="#000" strokeWidth={1.5} />
            <text x={(x1 + x2) / 2} y={y + 3.5} textAnchor="middle" fontFamily={ARIAL} fontWeight={700} fontSize={20}>{s.s}</text>
          </g>
        );
      })}

      {/* E titles and axis labels */}
      <g fontFamily={DEJAVU} fill="#000" textAnchor="middle">
        {eTitles.map((t, i) => (
          <text key={'et' + t} x={[271, 754, 1242, 1711][i]} y={453} fontSize={28}>{t}</text>
        ))}
        {[264, 754, 1244, 1734].map((x) => (
          <text key={'ex' + x} x={x} y={865} fontSize={24}>LD (%)</text>
        ))}
        {[267, 757, 1245].map((x) => (
          <text key={'fx' + x} x={x} y={1293} fontSize={25}>
            <tspan fontStyle="italic">MTR</tspan>
            <tspan fontStyle="italic" fontSize={17.5} dy={6}>asym</tspan>
            <tspan dy={-6}> (%)</tspan>
          </text>
        ))}
      </g>

      {/* F legend */}
      {['MDA-MB-231', 'MCF-7', 'Muscle'].map((n, i) => (
        <g key={'lf' + n}>
          <rect x={1529} y={[925, 971, 1017][i]} width={64} height={22} fill={histFills[i]} fillOpacity={0.5} stroke="#555" strokeWidth={1} />
          <text x={1620} y={[947, 993, 1040][i]} fontFamily={DEJAVU} fontSize={30}>{n}</text>
        </g>
      ))}
    </svg>
  );
}

export default function App() {
  return (
    <div style={{ position: 'absolute', left: 0, top: 0, width: 1950, height: 1302, background: '#fff', overflow: 'hidden' }}>
      <svg width={0} height={0} style={{ position: 'absolute' }}>
        <defs>
          <Hatch id="hatchBlue" base="#2233f0" stripe="#a3a9ff" />
          <Hatch id="hatchGreen" base="#2b842b" stripe="#8e9e8e" />
          <Hatch id="hatchRed" base="#f0241c" stripe="#ff9a92" />
        </defs>
      </svg>

      <SpectrumChart fr={FA} rows={rowsA} xDomain={[-6, 6]} xTicks={[6, 4, 2, 0, -2, -4, -6]} yDomain={[-3, 20]} yTicks={[0, 4, 8, 12, 16, 20]} />
      <SpectrumChart fr={FB} rows={rowsB} xDomain={[0, 6]} xTicks={[6, 5, 4, 3, 2, 1, 0]} yDomain={[-10, 10]} yTicks={[-10, -5, 0, 5, 10]} />
      <SummaryChart fr={FC} rows={rowsC} yDomain={[0, 25]} yTicks={[0, 5, 10, 15, 20, 25]} capW={8} />
      <SummaryChart fr={FD} rows={rowsD} yDomain={[-15, 10]} yTicks={[-15, -10, -5, 0, 5, 10]} zeroLine capW={10} />

      {histE.map((rows, i) => (
        <Hist key={'he' + i} fr={FE[i]} rows={rows} domain={[0, 18]} ticks={[0, 2, 4, 6, 8, 10, 12, 14, 16, 18]} />
      ))}
      {histF.map((rows, i) => (
        <Hist key={'hf' + i} fr={FF[i]} rows={rows} domain={[-12, 8]} ticks={[-12, -10, -8, -6, -4, -2, 0, 2, 4, 6, 8]} />
      ))}

      <Overlay />
    </div>
  );
}
